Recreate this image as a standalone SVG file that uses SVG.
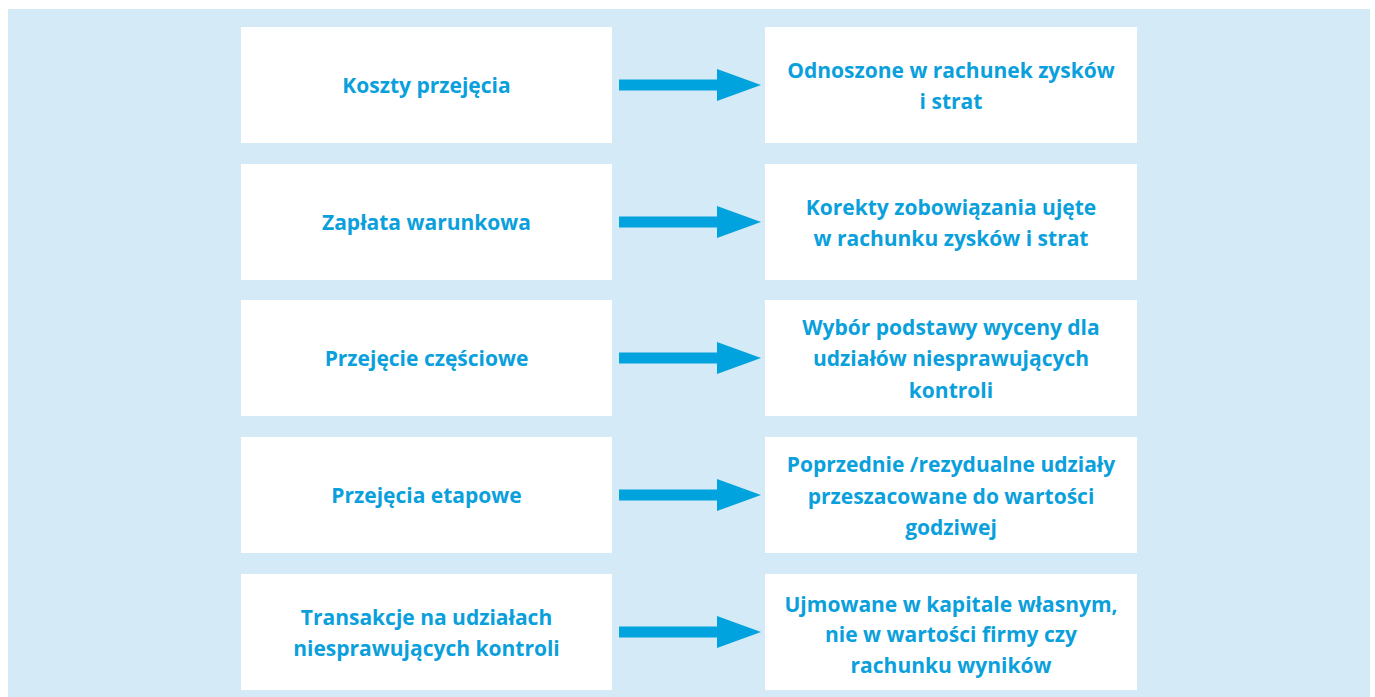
<svg xmlns="http://www.w3.org/2000/svg" width="1375" height="697" viewBox="0 0 1375 697">
<defs>
<style>
.bg{fill:#d4ebf7}
.box{fill:#ffffff}
.t{font-family:"Open Sans","Noto Sans","Liberation Sans",sans-serif;font-weight:bold;font-size:21px;fill:#0aa0dc;text-anchor:middle}
.arr{fill:#00a3dd}
</style>
<path id="arrow" d="M619,-5.5 H717 V-16 L761,0 L717,16 V5.5 H619 Z"/>
</defs>
<rect x="0" y="0" width="1375" height="697" fill="#ffffff"/>
<rect class="bg" x="8" y="9" width="1362" height="688"/>
<g id="n1"><rect class="box" x="241" y="27" width="371" height="116"/><text class="t" x="426.5" y="93">Koszty przejęcia</text></g>
<g id="n2"><rect class="box" x="765" y="27" width="372" height="116"/><text class="t" x="951" y="78">Odnoszone w rachunek zysków</text><text class="t" x="951" y="109">i strat</text></g>
<g id="n3"><rect class="box" x="241" y="164" width="371" height="116"/><text class="t" x="426.5" y="230">Zapłata warunkowa</text></g>
<g id="n4"><rect class="box" x="765" y="164" width="372" height="116"/><text class="t" x="951" y="215">Korekty zobowiązania ujęte</text><text class="t" x="951" y="246">w rachunku zysków i strat</text></g>
<g id="n5"><rect class="box" x="241" y="300" width="371" height="116"/><text class="t" x="426.5" y="366">Przejęcie częściowe</text></g>
<g id="n6"><rect class="box" x="765" y="300" width="372" height="116"/><text class="t" x="951" y="335">Wybór podstawy wyceny dla</text><text class="t" x="951" y="366">udziałów niesprawujących</text><text class="t" x="951" y="398">kontroli</text></g>
<g id="n7"><rect class="box" x="241" y="437" width="371" height="116"/><text class="t" x="426.5" y="503">Przejęcia etapowe</text></g>
<g id="n8"><rect class="box" x="765" y="437" width="372" height="116"/><text class="t" x="951" y="472">Poprzednie /rezydualne udziały</text><text class="t" x="951" y="504">przeszacowane do wartości</text><text class="t" x="951" y="535">godziwej</text></g>
<g id="n9"><rect class="box" x="241" y="574" width="371" height="116"/><text class="t" x="426.5" y="625">Transakcje na udziałach</text><text class="t" x="426.5" y="656">niesprawujących kontroli</text></g>
<g id="n10"><rect class="box" x="765" y="574" width="372" height="116"/><text class="t" x="951" y="612">Ujmowane w kapitale własnym,</text><text class="t" x="951" y="642">nie w wartości firmy czy</text><text class="t" x="951" y="673">rachunku wyników</text></g>
<g id="connectors" class="arr">
<use href="#arrow" transform="translate(0,85)"/>
<use href="#arrow" transform="translate(0,222)"/>
<use href="#arrow" transform="translate(0,358)"/>
<use href="#arrow" transform="translate(0,495)"/>
<use href="#arrow" transform="translate(0,632)"/>
</g>
</svg>
